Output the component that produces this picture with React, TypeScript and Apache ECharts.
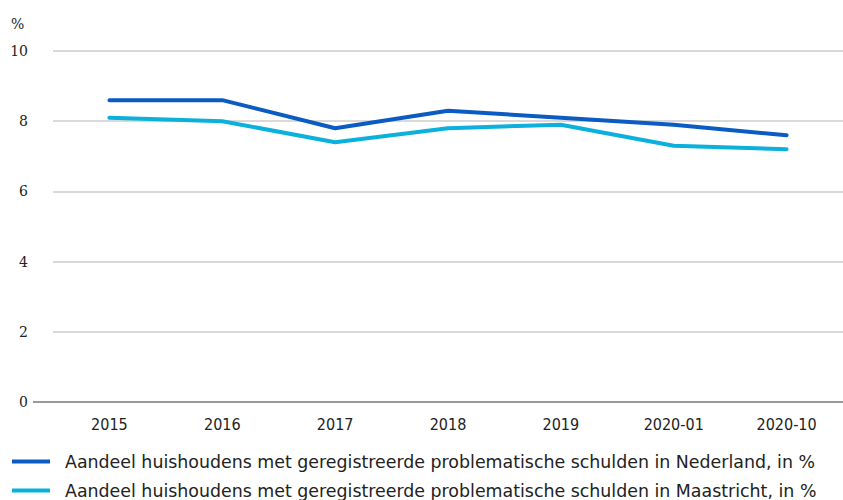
import React, { useEffect, useRef } from "react";
import * as echarts from "echarts";

const categories = ["2015", "2016", "2017", "2018", "2019", "2020-01", "2020-10"];
const nederland = [8.6, 8.6, 7.8, 8.3, 8.1, 7.9, 7.6];
const maastricht = [8.1, 8.0, 7.4, 7.8, 7.9, 7.3, 7.2];
const seriesNames = [
  "Aandeel huishoudens met geregistreerde problematische schulden in Nederland, in %",
  "Aandeel huishoudens met geregistreerde problematische schulden in Maastricht, in %",
];
const colors = ["#0a5cc2", "#0bb0dc"];

export default function App() {
  const ref = useRef<HTMLDivElement>(null);
  useEffect(() => {
    if (!ref.current) return;
    const chart = echarts.init(ref.current, null, { renderer: "svg" });
    const legendBase = {
      orient: "vertical",
      left: 12,
      itemWidth: 38,
      itemHeight: 4,
      icon: "rect",
      padding: 0,
      textStyle: { fontFamily: "DejaVu Sans", fontSize: 17.4, color: "#222", padding: [0, 0, 0, 10] },
    };
    chart.setOption({
      animation: false,
      color: colors,
      grid: { left: 53, top: 51, width: 799, height: 351 },
      graphic: [
        {
          type: "line",
          shape: { x1: 33, y1: 402, x2: 54, y2: 402 },
          style: { stroke: "#999", lineWidth: 2 },
        },
      ],
      legend: [
        { ...legendBase, top: 453, data: [seriesNames[0]] },
        { ...legendBase, top: 482, data: [seriesNames[1]] },
      ],
      xAxis: {
        type: "category",
        data: categories,
        boundaryGap: true,
        axisLine: { lineStyle: { color: "#999", width: 2 } },
        axisTick: { show: false },
        axisLabel: { fontFamily: "DejaVu Sans Condensed", fontSize: 16, color: "#222", margin: 14 },
      },
      yAxis: {
        type: "value",
        min: 0,
        max: 10,
        interval: 2,
        name: "%",
        nameLocation: "end",
        nameGap: 20,
        nameTextStyle: { fontFamily: "DejaVu Serif", fontSize: 14, color: "#222", align: "left", padding: [0, 0, 0, -42] },
        axisLine: { show: false },
        axisTick: { show: false },
        axisLabel: { fontFamily: "DejaVu Serif", fontSize: 14, color: "#222", margin: 25 },
        splitLine: { lineStyle: { color: "#cccccc", width: 1.5 } },
      },
      series: [
        {
          name: seriesNames[0],
          type: "line",
          data: nederland,
          symbol: "none",
          lineStyle: { width: 4, cap: "round" },
        },
        {
          name: seriesNames[1],
          type: "line",
          data: maastricht,
          symbol: "none",
          lineStyle: { width: 4, cap: "round" },
        },
      ],
    });
    return () => chart.dispose();
  }, []);
  return <div ref={ref} style={{ width: 843, height: 500, position: "absolute", left: 0, top: 0 }} />;
}
